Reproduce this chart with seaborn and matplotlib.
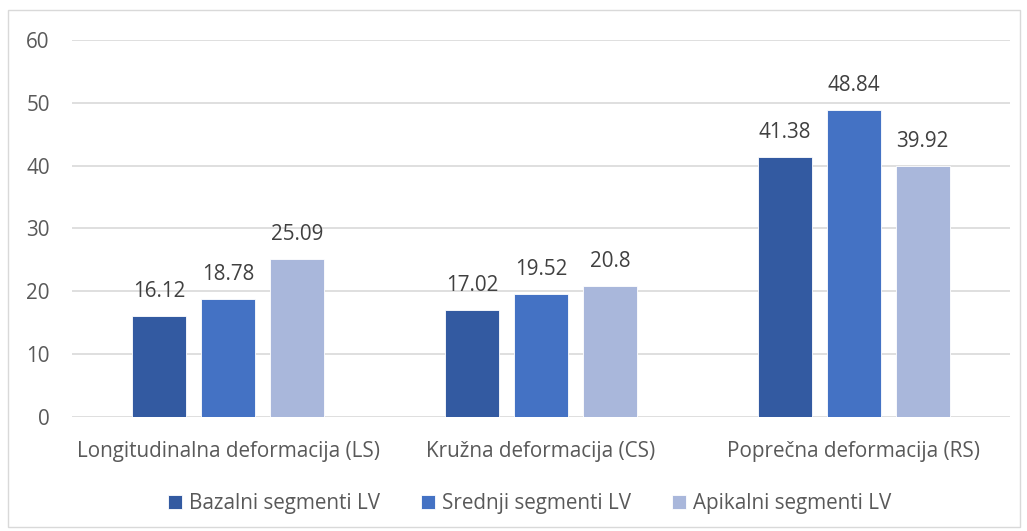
import matplotlib
matplotlib.use("Agg")
import matplotlib.pyplot as plt
import seaborn as sns
import pandas as pd
from matplotlib.patches import Rectangle

categories = ["Longitudinalna deformacija (LS)", "Kružna deformacija (CS)", "Poprečna deformacija (RS)"]
series = ["Bazalni segmenti LV", "Srednji segmenti LV", "Apikalni segmenti LV"]
bazalni = [16.12, 17.02, 41.38]
srednji = [18.78, 19.52, 48.84]
apikalni = [25.09, 20.8, 39.92]
yticks = [0, 10, 20, 30, 40, 50, 60]
colors = ["#335AA1", "#4472C4", "#A9B7DB"]

rows = []
for s, vals in zip(series, [bazalni, srednji, apikalni]):
    for c, v in zip(categories, vals):
        rows.append({"cat": c, "series": s, "val": v})
df = pd.DataFrame(rows)

sns.set_theme(style="white")
plt.rcParams['font.family'] = ['Open Sans', 'DejaVu Sans']
FS = 14.9

fig = plt.figure(figsize=(10.27, 5.31), dpi=100)
ax = fig.add_axes([0.0701, 0.2147, 0.9133, 0.71])

sns.barplot(data=df, x="cat", y="val", hue="series", order=categories, hue_order=series,
            palette=colors, width=0.662, gap=0.217, ax=ax, edgecolor="white", linewidth=0.6,
            saturation=1, legend=True)

ax.set_ylim(0, 60)
ax.set_yticks(yticks)
ax.set_xlim(-0.5, 2.5)
ax.yaxis.grid(True, color="#D9D9D9", linewidth=1.2)
ax.set_axisbelow(True)
for sp in ax.spines.values():
    sp.set_visible(False)
ax.set_xlabel("")
ax.set_ylabel("")
ax.tick_params(axis="both", length=0, labelsize=FS, labelcolor="#595959")
ax.tick_params(axis="y", pad=16)
ax.tick_params(axis="x", pad=17)

for cont in ax.containers:
    ax.bar_label(cont, labels=[f"{v:g}" for v in cont.datavalues], padding=10,
                 fontsize=FS, color="#404040")

leg = ax.legend(loc="upper center", bbox_to_anchor=(0.488, -0.152), ncol=3, frameon=False,
                fontsize=FS, handlelength=0.65, handleheight=0.65, handletextpad=0.35,
                columnspacing=2.0)
for t in leg.get_texts():
    t.set_color("#595959")

fig.patches.append(Rectangle((8/1027, 1 - 527/531), 1012/1027, 517/531, transform=fig.transFigure,
                             fill=False, edgecolor="#D9D9D9", linewidth=1))

fig.savefig("out.png", dpi=100, facecolor="white")
